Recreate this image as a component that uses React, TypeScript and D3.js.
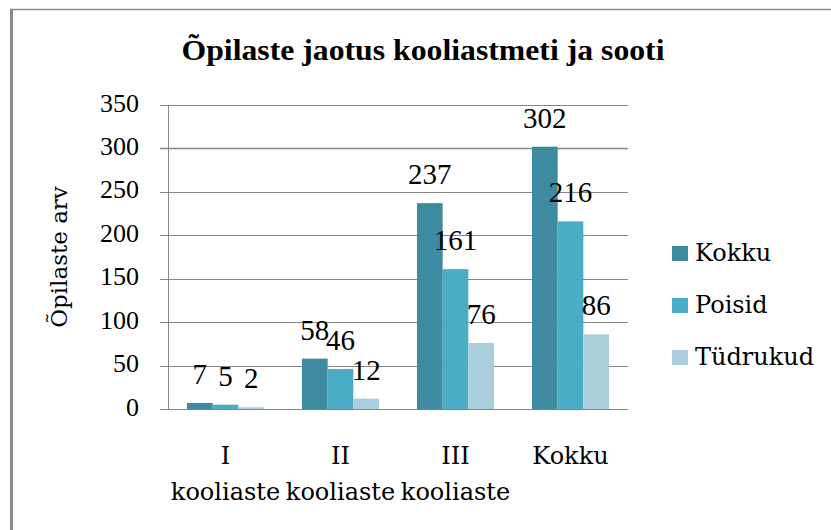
import React from "react";
import * as d3 from "d3";

const categories = ["I kooliaste", "II kooliaste", "III kooliaste", "Kokku"];
const categoryLines = [["I", "kooliaste"], ["II", "kooliaste"], ["III", "kooliaste"], ["Kokku"]];
const seriesNames = ["Kokku", "Poisid", "Tüdrukud"];
const kokku = [7, 58, 237, 302];
const poisid = [5, 46, 161, 216];
const tydrukud = [2, 12, 76, 86];
const yTicks = [0, 50, 100, 150, 200, 250, 300, 350];
const colors = ["#3D8AA1", "#4BACC6", "#A9CFDC"];

const W = 831;
const H = 530;
const plot = { left: 168, right: 628, top: 105, bottom: 409 };
const SERIF = "DejaVu Serif";
const NUM = "Liberation Serif";

export default function App() {
  const series = [kokku, poisid, tydrukud];
  const x0 = d3.scaleBand().domain(categories).range([plot.left, plot.right]).paddingInner(0.33).paddingOuter(0.165);
  const x1 = d3.scaleBand().domain(seriesNames).range([0, x0.bandwidth()]);
  const y = d3.scaleLinear().domain([0, 350]).range([plot.bottom, plot.top]);

  return (
    <svg width={W} height={H} style={{ position: "absolute", left: 0, top: 0 }}>
      <rect x={0} y={0} width={W} height={H} fill="#fff" />
      <line x1={11.5} x2={11.5} y1={9} y2={H} stroke="#888" strokeWidth={3} />
      <line x1={10} x2={W} y1={9.5} y2={9.5} stroke="#888" strokeWidth={1.5} />
      <text x={423} y={60} textAnchor="middle" fontFamily={NUM} fontWeight="bold" fontSize={30} textLength={483} lengthAdjust="spacingAndGlyphs">
        Õpilaste jaotus kooliastmeti ja sooti
      </text>
      {yTicks.map((t) => (
        <g key={t}>
          <line x1={plot.left - 8} x2={plot.right} y1={Math.round(y(t)) + 0.5} y2={Math.round(y(t)) + 0.5} stroke="#868686" strokeWidth={t === 300 ? 1.6 : 1} />
          <text x={139} y={y(t) + 6.5} textAnchor="end" fontFamily={NUM} fontSize={26}>{t}</text>
        </g>
      ))}
      <line x1={plot.left + 0.5} x2={plot.left + 0.5} y1={plot.top} y2={plot.bottom} stroke="#868686" strokeWidth={1} />
      <text transform="translate(67,257) rotate(-90)" textAnchor="middle" fontFamily={SERIF} fontSize={23}>Õpilaste arv</text>
      {categories.map((c, i) => (
        <g key={c}>
          {series.map((s, j) => {
            const bx = (x0(c) as number) + (x1(seriesNames[j]) as number);
            const bw = x1.bandwidth();
            return (
              <g key={j}>
                <rect x={bx} y={y(s[i])} width={bw} height={y(0) - y(s[i])} fill={colors[j]} />
                <text x={bx + bw / 2} y={y(s[i]) - 19} textAnchor="middle" fontFamily={NUM} fontSize={29}>{s[i]}</text>
              </g>
            );
          })}
          {categoryLines[i].map((ln, k) => (
            <text key={k} x={(x0(c) as number) + x0.bandwidth() / 2} y={464 + k * 36} textAnchor="middle" fontFamily={SERIF} fontSize={24}>{ln}</text>
          ))}
        </g>
      ))}
      {seriesNames.map((n, j) => (
        <g key={n}>
          <rect x={672} y={246 + j * 52} width={16} height={15} fill={colors[j]} />
          <text x={695} y={261 + j * 52} fontFamily={SERIF} fontSize={24}>{n}</text>
        </g>
      ))}
    </svg>
  );
}
